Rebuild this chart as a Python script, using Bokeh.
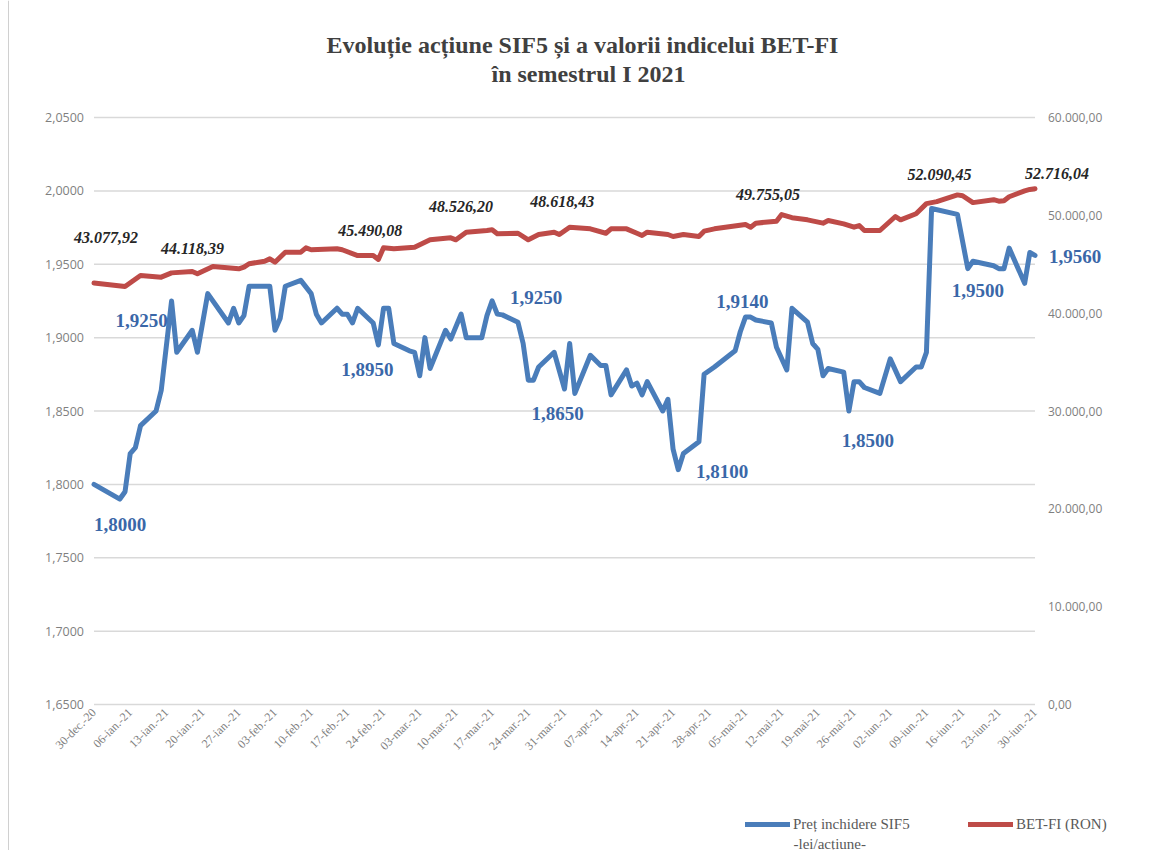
import pandas as pd
from bokeh.plotting import figure
from bokeh.models import (ColumnDataSource, Range1d, LinearAxis, FixedTicker,
                          CustomJSTickFormatter, Legend, LegendItem, Label, Span)
from bokeh.core.properties import value
from bokeh.embed import file_html
from bokeh.resources import INLINE

# ---------------- data ----------------
sif5_dates = [
    "2020-12-30", "2021-01-04", "2021-01-05", "2021-01-06", "2021-01-07", "2021-01-08",
    "2021-01-11", "2021-01-12", "2021-01-14", "2021-01-15", "2021-01-18", "2021-01-19",
    "2021-01-21", "2021-01-25", "2021-01-26", "2021-01-27", "2021-01-28", "2021-01-29",
    "2021-02-01", "2021-02-02", "2021-02-03", "2021-02-04", "2021-02-05", "2021-02-08",
    "2021-02-10", "2021-02-11", "2021-02-12", "2021-02-15", "2021-02-16", "2021-02-17",
    "2021-02-18", "2021-02-19", "2021-02-22", "2021-02-23", "2021-02-24", "2021-02-25",
    "2021-02-26", "2021-03-01", "2021-03-02", "2021-03-03", "2021-03-04", "2021-03-05",
    "2021-03-08", "2021-03-09", "2021-03-11", "2021-03-12", "2021-03-15", "2021-03-16",
    "2021-03-17", "2021-03-18", "2021-03-19", "2021-03-22", "2021-03-23", "2021-03-24",
    "2021-03-25", "2021-03-26", "2021-03-29", "2021-03-31", "2021-04-01", "2021-04-02",
    "2021-04-05", "2021-04-07", "2021-04-08", "2021-04-09", "2021-04-12", "2021-04-13",
    "2021-04-14", "2021-04-15", "2021-04-16", "2021-04-19", "2021-04-20", "2021-04-21",
    "2021-04-22", "2021-04-23", "2021-04-26", "2021-04-27", "2021-04-29", "2021-05-03",
    "2021-05-04", "2021-05-05", "2021-05-06", "2021-05-07", "2021-05-10", "2021-05-11",
    "2021-05-13", "2021-05-14", "2021-05-17", "2021-05-18", "2021-05-19", "2021-05-20",
    "2021-05-21", "2021-05-24", "2021-05-25", "2021-05-26", "2021-05-27", "2021-05-28",
    "2021-05-31", "2021-06-02", "2021-06-04", "2021-06-07", "2021-06-08", "2021-06-09",
    "2021-06-10", "2021-06-15", "2021-06-17", "2021-06-18", "2021-06-22", "2021-06-23",
    "2021-06-24", "2021-06-25", "2021-06-28", "2021-06-29", "2021-06-30",
]
sif5_close = [
    1.800, 1.790, 1.795, 1.821, 1.825, 1.840,
    1.850, 1.864, 1.925, 1.890, 1.905, 1.890,
    1.930, 1.910, 1.920, 1.910, 1.915, 1.935,
    1.935, 1.935, 1.905, 1.913, 1.935, 1.939,
    1.930, 1.916, 1.910, 1.920, 1.916, 1.916,
    1.910, 1.920, 1.910, 1.895, 1.920, 1.920,
    1.896, 1.891, 1.890, 1.874, 1.900, 1.879,
    1.905, 1.899, 1.916, 1.900, 1.900, 1.915,
    1.925, 1.916, 1.9155, 1.9105, 1.896, 1.871,
    1.871, 1.880, 1.890, 1.865, 1.896, 1.862,
    1.888, 1.881, 1.881, 1.861, 1.878, 1.867,
    1.869, 1.861, 1.870, 1.850, 1.858, 1.824,
    1.810, 1.821, 1.829, 1.875, 1.880, 1.891,
    1.904, 1.914, 1.914, 1.912, 1.910, 1.8935,
    1.878, 1.920, 1.9105, 1.896, 1.892, 1.874,
    1.879, 1.8765, 1.850, 1.870, 1.870, 1.866,
    1.862, 1.8855, 1.870, 1.880, 1.880, 1.890,
    1.988, 1.984, 1.947, 1.952, 1.949, 1.947,
    1.947, 1.961, 1.937, 1.958, 1.956,
]

betfi_dates = [
    "2020-12-30", "2021-01-05", "2021-01-08", "2021-01-12", "2021-01-14", "2021-01-18",
    "2021-01-19", "2021-01-22", "2021-01-27", "2021-01-28", "2021-01-29", "2021-02-01",
    "2021-02-02", "2021-02-03", "2021-02-05", "2021-02-08", "2021-02-09", "2021-02-10",
    "2021-02-15", "2021-02-16", "2021-02-19", "2021-02-22", "2021-02-23", "2021-02-24",
    "2021-02-26", "2021-03-02", "2021-03-05", "2021-03-09", "2021-03-10", "2021-03-12",
    "2021-03-16", "2021-03-17", "2021-03-18", "2021-03-22", "2021-03-24", "2021-03-26",
    "2021-03-29", "2021-03-30", "2021-04-01", "2021-04-05", "2021-04-08", "2021-04-09",
    "2021-04-12", "2021-04-14", "2021-04-15", "2021-04-16", "2021-04-20", "2021-04-21",
    "2021-04-23", "2021-04-26", "2021-04-27", "2021-04-29", "2021-05-05", "2021-05-06",
    "2021-05-07", "2021-05-11", "2021-05-12", "2021-05-14", "2021-05-17", "2021-05-20",
    "2021-05-21", "2021-05-24", "2021-05-26", "2021-05-27", "2021-05-28", "2021-05-31",
    "2021-06-03", "2021-06-04", "2021-06-07", "2021-06-09", "2021-06-11", "2021-06-15",
    "2021-06-16", "2021-06-18", "2021-06-22", "2021-06-23", "2021-06-24", "2021-06-25",
    "2021-06-28", "2021-06-29", "2021-06-30",
]
betfi_values = [
    43077.92, 42725, 43850, 43680, 44118.39, 44260,
    44020, 44770, 44530, 44700, 45050, 45310,
    45550, 45210, 46230, 46230, 46680, 46480,
    46580, 46480, 45890, 45890, 45490.08, 46680,
    46580, 46740, 47500, 47700, 47500, 48280,
    48450, 48526.20, 48110, 48170, 47500, 48040,
    48280, 48040, 48790, 48618.43, 48170, 48620,
    48620, 48170, 47940, 48280, 48040, 47840,
    48040, 47840, 48380, 48620, 49060, 48790,
    49200, 49400, 50080, 49755.05, 49540, 49200,
    49470, 49130, 48790, 48960, 48450, 48450,
    49880, 49540, 50160, 51200, 51400, 52090.45,
    52000, 51300, 51600, 51450, 51500, 51900,
    52500, 52650, 52716.04,
]

x_tick_dates = [
    "2020-12-30", "2021-01-06", "2021-01-13", "2021-01-20", "2021-01-27", "2021-02-03",
    "2021-02-10", "2021-02-17", "2021-02-24", "2021-03-03", "2021-03-10", "2021-03-17",
    "2021-03-24", "2021-03-31", "2021-04-07", "2021-04-14", "2021-04-21", "2021-04-28",
    "2021-05-05", "2021-05-12", "2021-05-19", "2021-05-26", "2021-06-02", "2021-06-09",
    "2021-06-16", "2021-06-23", "2021-06-30",
]
x_tick_labels = [
    "30-dec.-20", "06-ian.-21", "13-ian.-21", "20-ian.-21", "27-ian.-21", "03-feb.-21",
    "10-feb.-21", "17-feb.-21", "24-feb.-21", "03-mar.-21", "10-mar.-21", "17-mar.-21",
    "24-mar.-21", "31-mar.-21", "07-apr.-21", "14-apr.-21", "21-apr.-21", "28-apr.-21",
    "05-mai-21", "12-mai-21", "19-mai-21", "26-mai-21", "02-iun.-21", "09-iun.-21",
    "16-iun.-21", "23-iun.-21", "30-iun.-21",
]
left_ticks = [1.65, 1.70, 1.75, 1.80, 1.85, 1.90, 1.95, 2.00, 2.05]
right_ticks = [0, 10000, 20000, 30000, 40000, 50000, 60000]

sif5_label_dates = ["2020-12-30", "2021-01-14", "2021-02-23", "2021-03-17", "2021-03-31",
                    "2021-04-22", "2021-05-05", "2021-05-25", "2021-06-17", "2021-06-30"]
sif5_label_texts = ["1,8000", "1,9250", "1,8950", "1,9250", "1,8650",
                    "1,8100", "1,9140", "1,8500", "1,9500", "1,9560"]
betfi_label_dates = ["2020-12-30", "2021-01-14", "2021-02-23", "2021-03-17", "2021-04-05",
                     "2021-05-14", "2021-06-15", "2021-06-30"]
betfi_label_texts = ["43.077,92", "44.118,39", "45.490,08", "48.526,20", "48.618,43",
                     "49.755,05", "52.090,45", "52.716,04"]

title_lines = ["Evoluție acțiune SIF5 și a valorii  indicelui  BET-FI", "în semestrul I 2021"]
legend_sif5 = ["Preț inchidere SIF5", "-lei/acțiune-"]
legend_betfi = "BET-FI (RON)"

# ---------------- layout / styles ----------------
W, H = 1150, 850
PLOT_LEFT, PLOT_RIGHT, PLOT_TOP, PLOT_BOTTOM = 93.5, 1034.5, 117.0, 704.0

sif5_label_dx = [26, -30, -11, 44, -7, 44, -3, 19, 10, 40]
sif5_label_dy = [40, 20, 25, -3, 25, 2, -16, 29, 22, 1]
betfi_label_dx = [12, 21, -8, -31, -28, -24, -18, 22]
betfi_label_dy = [-46, -24, -29, -23, -27, -23, -20, -15]

BLUE = "#4A7DBA"
RED = "#BE4B48"
BLUE_TXT = "#3A67A8"
GRID = "#D9D9D9"
AXIS_TXT = "#7F7F7F"
SERIF = "Liberation Serif"

# ---------------- ranges so that the plot area sits where the reference has it ----
d0 = pd.Timestamp(x_tick_dates[0])
d1 = pd.Timestamp(x_tick_dates[-1])
px_per_day = (PLOT_RIGHT - PLOT_LEFT) / ((d1 - d0).days)
x_start = d0 - pd.Timedelta(days=PLOT_LEFT / px_per_day)
x_end = d1 + pd.Timedelta(days=(W - PLOT_RIGHT) / px_per_day)

def ext_range(lo, hi):
    per_px = (hi - lo) / (PLOT_BOTTOM - PLOT_TOP)
    return lo - (H - PLOT_BOTTOM) * per_px, hi + PLOT_TOP * per_px

ly0, ly1 = ext_range(left_ticks[0], left_ticks[-1])
ry0, ry1 = ext_range(right_ticks[0], right_ticks[-1])

sif5_x = pd.to_datetime(sif5_dates)
bet_x = pd.to_datetime(betfi_dates)
sif5_map = dict(zip(sif5_dates, sif5_close))
bet_map = dict(zip(betfi_dates, betfi_values))

p = figure(width=W, height=H, x_axis_type="datetime", output_backend="svg",
           toolbar_location=None,
           x_range=Range1d(x_start, x_end), y_range=Range1d(ly0, ly1),
           min_border_left=0, min_border_right=0, min_border_top=0, min_border_bottom=0)
p.outline_line_color = None
p.extra_y_ranges = {"bet": Range1d(ry0, ry1)}

tick_ms = [float(t) for t in (pd.to_datetime(x_tick_dates).astype("int64") // 10**6)]

# thin chart-area border on the left edge
p.add_layout(Span(location=8, dimension="height", location_units="screen",
                  line_color="#D0D0D0", line_width=1))

# axes (fixed inside the frame so that labels around the plot area are never clipped)
p.xaxis.fixed_location = left_ticks[0]
p.xaxis.ticker = FixedTicker(ticks=tick_ms)
p.xaxis.formatter = CustomJSTickFormatter(args=dict(t=tick_ms, l=x_tick_labels),
                                          code="const i = t.indexOf(tick); return i >= 0 ? l[i] : '';")
p.xaxis.major_label_orientation = 0.785398
p.xaxis.major_label_text_font = SERIF
p.xaxis.major_label_text_font_size = "12px"
p.xaxis.major_label_text_color = AXIS_TXT
p.xaxis.major_label_standoff = 6

p.yaxis.fixed_location = tick_ms[0]
p.yaxis.ticker = FixedTicker(ticks=left_ticks)
p.yaxis.formatter = CustomJSTickFormatter(code="return tick.toFixed(4).replace('.', ',');")
p.yaxis.major_label_text_font = "Open Sans"
p.yaxis.major_label_text_font_size = "12.5px"
p.yaxis.major_label_text_color = AXIS_TXT
p.yaxis.major_label_standoff = 10

raxis = LinearAxis(y_range_name="bet", ticker=FixedTicker(ticks=right_ticks),
                   fixed_location=tick_ms[-1],
                   formatter=CustomJSTickFormatter(code=
                       "const s = tick.toFixed(2).split('.');"
                       "return s[0].replace(/\\B(?=(\\d{3})+(?!\\d))/g, '.') + ',' + s[1];"))
raxis.major_label_text_font = "Open Sans"
raxis.major_label_text_font_size = "12px"
raxis.major_label_text_color = AXIS_TXT
raxis.major_label_standoff = 13
p.add_layout(raxis, "right")

for ax in [p.xaxis[0], p.yaxis[0], raxis]:
    ax.axis_line_color = None
    ax.major_tick_line_color = None
    ax.minor_tick_line_color = None
    ax.major_tick_out = 0
    ax.major_tick_in = 0

p.xgrid.visible = False
p.ygrid.visible = False
# horizontal gridlines at the left-axis ticks, across the plot area only
p.segment(x0=[d0] * len(left_ticks), x1=[d1] * len(left_ticks), y0=left_ticks, y1=left_ticks,
          line_color=GRID, line_width=1.5)

# lines
r_bet = p.line(bet_x, betfi_values, y_range_name="bet", line_color=RED, line_width=5,
               line_join="round", line_cap="round")
r_sif = p.line(sif5_x, sif5_close, line_color=BLUE, line_width=5,
               line_join="round", line_cap="round")

# data labels
src_sif_lbl = ColumnDataSource(dict(
    x=pd.to_datetime(sif5_label_dates), y=[sif5_map[d] for d in sif5_label_dates],
    text=sif5_label_texts, dx=sif5_label_dx, dy=sif5_label_dy))
p.text(x="x", y="y", text="text", x_offset="dx", y_offset="dy", source=src_sif_lbl,
       text_align="center", text_baseline="middle", text_font=value(SERIF),
       text_font_style="bold", text_font_size="19px", text_color=BLUE_TXT)

src_bet_lbl = ColumnDataSource(dict(
    x=pd.to_datetime(betfi_label_dates), y=[bet_map[d] for d in betfi_label_dates],
    text=betfi_label_texts, dx=betfi_label_dx, dy=betfi_label_dy))
p.text(x="x", y="y", text="text", x_offset="dx", y_offset="dy", source=src_bet_lbl,
       y_range_name="bet", text_align="center", text_baseline="middle",
       text_font=value(SERIF), text_font_style="bold italic", text_font_size="16px",
       text_color="#262626")

# title (screen units measured from the frame's bottom-left = canvas bottom-left)
for txt, cy in zip(title_lines, [44, 73]):
    p.add_layout(Label(x=588, y=H - cy, x_units="screen", y_units="screen", text=txt,
                       text_align="center", text_baseline="middle", text_font=SERIF,
                       text_font_style="bold", text_font_size="24px", text_color="#404040"))

# legends
leg_common = dict(orientation="horizontal", glyph_width=45, glyph_height=20, label_height=20,
                  label_standoff=3, padding=0, margin=0, spacing=0,
                  border_line_color=None, background_fill_alpha=0,
                  label_text_font=SERIF, label_text_font_size="15px",
                  label_text_color="#595959")
leg1 = Legend(items=[LegendItem(label=legend_sif5[0], renderers=[r_sif])],
              location=(745, H - 834), **leg_common)
leg2 = Legend(items=[LegendItem(label=legend_betfi, renderers=[r_bet])],
              location=(968, H - 834), **leg_common)
p.add_layout(leg1)
p.add_layout(leg2)
p.add_layout(Label(x=793, y=H - 843, x_units="screen", y_units="screen", text=legend_sif5[1],
                   text_baseline="middle", text_font=SERIF, text_font_size="15px",
                   text_color="#595959"))

open("out.html", "w").write(file_html(p, INLINE))
